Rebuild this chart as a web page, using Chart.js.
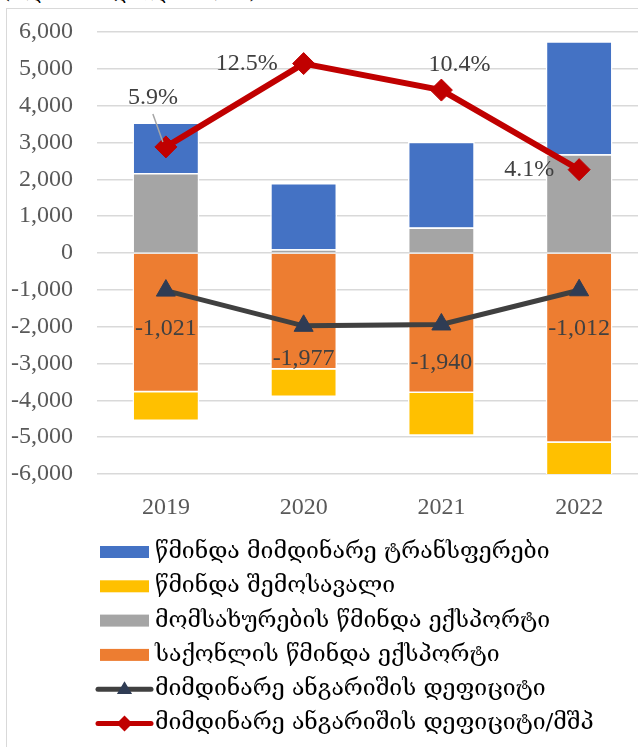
<!DOCTYPE html>
<html>
<head>
<meta charset="utf-8">
<script src="https://cdn.jsdelivr.net/npm/chart.js@4.4.1/dist/chart.umd.min.js"></script>
<style>
  html, body { margin: 0; padding: 0; width: 638px; height: 747px; overflow: hidden; background: #fff; }
  #title { position: absolute; left: 2px; top: -22px; font: 22px 'DejaVu Serif', 'DejaVu Sans', serif; color: #000; white-space: nowrap; }
  #frame { position: absolute; left: 6px; top: 8px; width: 700px; height: 800px; border: 1.5px solid #d9d9d9; box-sizing: border-box; }
  #wrap { position: absolute; left: 0; top: 0; width: 660px; height: 747px; }
</style>
</head>
<body>
<div id="title">(მლნ აშშ დოლარი, %)</div>
<div id="frame"></div>
<div id="wrap"><canvas id="chart" width="660" height="747"></canvas></div>
<script>
// values in mln USD, ratio in %
const years = ['2019', '2020', '2021', '2022'];
const transfers = [1370, 1800, 2330, 3070];
const income = [-780, -750, -1160, -950];
const services = [2170, 100, 690, 2680];
const goods = [-3780, -3160, -3800, -5150];
const deficit = [-1021, -1977, -1940, -1012];
const deficitToGdp = [5.9, 12.5, 10.4, 4.1];

const yMin = -6000, yMax = 6000, yStep = 1000;

const serif = "'Liberation Serif', 'DejaVu Serif', serif";
const geo = "'DejaVu Serif', 'DejaVu Sans', sans-serif";

// legend order (dataset indexes)
const legendOrder = [4, 5, 2, 3, 0, 1];

// label placement relative to the point
const ratioLabelShift = [[-13, -49], [-57, 0], [18, -25], [-50, 0]];
const deficitLabelShift = [[0, 38], [0, 33], [0, 38], [0, 38]];

const labelsPlugin = {
  id: 'pointLabels',
  afterDatasetsDraw(chart) {
    const ctx = chart.ctx;
    ctx.save();
    ctx.font = '24px ' + serif;
    ctx.textAlign = 'center';
    ctx.textBaseline = 'middle';

    const red = chart.getDatasetMeta(1);
    red.data.forEach((pt, i) => {
      const [dx, dy] = ratioLabelShift[i];
      if (Math.abs(dy) > 40) {
        // leader line
        ctx.strokeStyle = '#a6a6a6';
        ctx.lineWidth = 1.5;
        ctx.beginPath();
        ctx.moveTo(pt.x + dx, pt.y + dy + 16);
        ctx.lineTo(pt.x - 3, pt.y - 5);
        ctx.stroke();
      }
      ctx.fillStyle = '#404040';
      ctx.fillText(deficitToGdp[i].toFixed(1) + '%', pt.x + dx, pt.y + dy);
    });

    const dark = chart.getDatasetMeta(0);
    dark.data.forEach((pt, i) => {
      const [dx, dy] = deficitLabelShift[i];
      ctx.fillStyle = '#404040';
      ctx.fillText(deficit[i].toLocaleString('en-US'), pt.x + dx, pt.y + dy);
    });
    ctx.restore();
  }
};

function drawMarker(ctx, style, x, y, r, color) {
  ctx.fillStyle = color;
  ctx.beginPath();
  if (style === 'triangle') {
    ctx.moveTo(x, y - r);
    ctx.lineTo(x + r * 0.95, y + r * 0.6);
    ctx.lineTo(x - r * 0.95, y + r * 0.6);
  } else {
    ctx.moveTo(x, y - r);
    ctx.lineTo(x + r, y);
    ctx.lineTo(x, y + r);
    ctx.lineTo(x - r, y);
  }
  ctx.closePath();
  ctx.fill();
}

const legendPlugin = {
  id: 'rowLegend',
  afterDraw(chart) {
    const ctx = chart.ctx;
    ctx.save();
    ctx.font = '23px ' + geo;
    ctx.textBaseline = 'middle';
    ctx.textAlign = 'left';
    legendOrder.forEach((di, row) => {
      const ds = chart.data.datasets[di];
      const y = 552 + row * 34.3;
      if (ds.type === 'line') {
        ctx.strokeStyle = ds.borderColor;
        ctx.lineWidth = 5;
        ctx.lineCap = 'round';
        ctx.beginPath();
        ctx.moveTo(98, y);
        ctx.lineTo(151, y);
        ctx.stroke();
        drawMarker(ctx, ds.pointStyle, 124.5, y, 8, ds.pointBackgroundColor);
      } else {
        ctx.fillStyle = ds.backgroundColor;
        ctx.fillRect(100, y - 6, 49, 12);
      }
      ctx.fillStyle = '#000';
      ctx.fillText(ds.label, 155, y);
    });
    ctx.restore();
  }
};

new Chart(document.getElementById('chart'), {
  type: 'bar',
  data: {
    labels: years,
    datasets: [
      {
        type: 'line',
        label: 'მიმდინარე ანგარიშის დეფიციტი',
        data: deficit,
        yAxisID: 'y',
        stack: 'deficitLine',
        borderColor: '#404040',
        borderWidth: 5,
        pointStyle: 'triangle',
        pointRadius: 11,
        pointBackgroundColor: '#2f3c54',
        pointBorderColor: '#2f3c54',
        pointBorderWidth: 1,
        tension: 0
      },
      {
        type: 'line',
        label: 'მიმდინარე ანგარიშის დეფიციტი/მშპ',
        data: deficitToGdp,
        yAxisID: 'y2',
        borderColor: '#c00000',
        borderWidth: 6,
        pointStyle: 'rectRot',
        pointRadius: 11,
        pointBackgroundColor: '#c00000',
        pointBorderColor: '#c00000',
        pointBorderWidth: 1,
        tension: 0
      },
      { label: 'მომსახურების წმინდა ექსპორტი', data: services, backgroundColor: '#a5a5a5', stack: 'ca' },
      { label: 'საქონლის წმინდა ექსპორტი', data: goods, backgroundColor: '#ed7d31', stack: 'ca' },
      { label: 'წმინდა მიმდინარე ტრანსფერები', data: transfers, backgroundColor: '#4472c4', stack: 'ca' },
      { label: 'წმინდა შემოსავალი', data: income, backgroundColor: '#ffc000', stack: 'ca' }
    ]
  },
  options: {
    responsive: false,
    animation: false,
    layout: { padding: { top: 32, right: 11, left: 0, bottom: 0 } },
    datasets: {
      bar: {
        barPercentage: 0.485,
        categoryPercentage: 1,
        borderColor: '#ffffff',
        borderWidth: 1.5
      }
    },
    plugins: {
      legend: { display: false },
      tooltip: { enabled: false }
    },
    scales: {
      x: {
        stacked: true,
        grid: { display: false },
        border: { display: false },
        ticks: { color: '#595959', font: { family: serif, size: 24 }, padding: 11 },
        afterFit: s => { s.height = 273; }
      },
      y: {
        stacked: true,
        min: yMin,
        max: yMax,
        ticks: {
          stepSize: yStep,
          color: '#595959',
          font: { family: serif, size: 24 },
          padding: 24,
          callback: v => v.toLocaleString('en-US')
        },
        grid: { color: '#d9d9d9', lineWidth: 1.5, drawTicks: false },
        border: { display: false },
        afterFit: s => { s.width = 97; s.paddingTop = 0; s.paddingBottom = 0; }
      },
      y2: {
        display: false,
        min: -20,
        max: 15
      }
    }
  },
  plugins: [labelsPlugin, legendPlugin]
});
</script>
</body>
</html>
